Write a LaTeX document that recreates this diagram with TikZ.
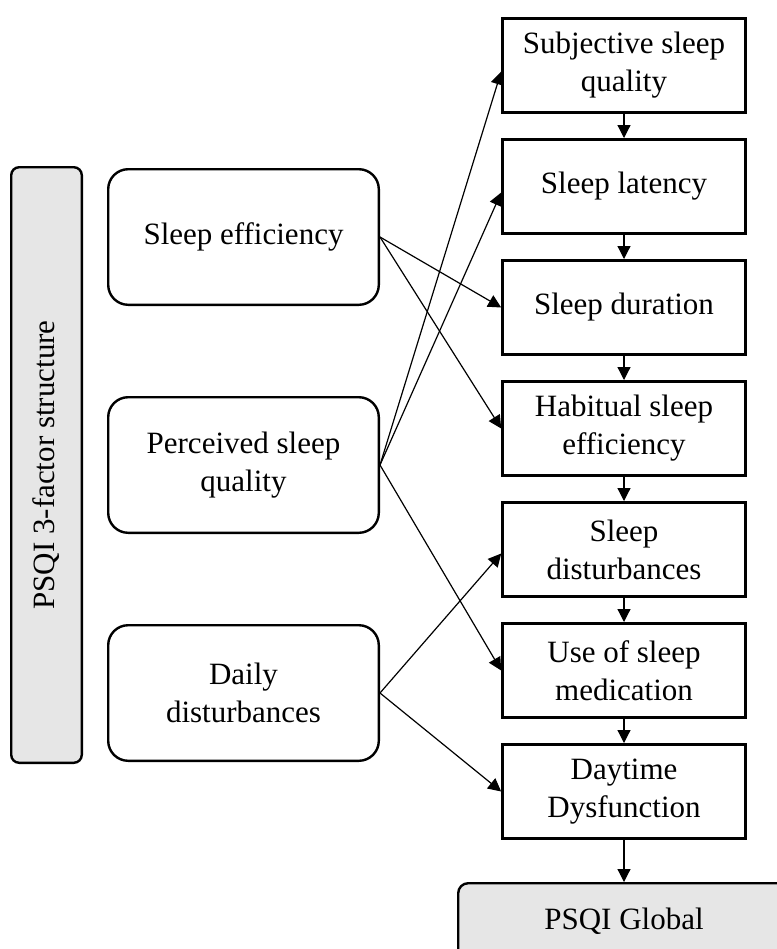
\documentclass[tikz,border=0pt]{standalone}
\usepackage{fontspec}
\setmainfont{Liberation Serif}
\usepackage{xcolor}
\usepackage{tikz}
\usetikzlibrary{arrows.meta, positioning}
\definecolor{boxgray}{RGB}{230,230,230}

\begin{document}
\begin{tikzpicture}[
    font=\fontsize{15.5}{19}\selectfont,
    node distance=12pt,
    itembox/.style={rectangle, draw, line width=1.3pt, align=center, minimum width=121.5pt, minimum height=47.2pt},
    factorbox/.style={rectangle, rounded corners=10pt, draw, line width=1.2pt, align=center, minimum width=135.3pt, minimum height=67.8pt},
    sidebox/.style={rectangle, rounded corners=4pt, draw, line width=1.2pt, fill=boxgray, minimum width=35.3pt, minimum height=297.8pt},
    globalbox/.style={rectangle, rounded corners=5pt, draw, line width=1.2pt, fill=boxgray, minimum width=165.8pt, minimum height=37.8pt},
    arrow/.style={-{Triangle[length=6.5pt, width=6.5pt]}, line width=0.6pt}
]
\useasboundingbox (0,0) rectangle (388.5pt,-474.5pt);
\clip (0,0) rectangle (388.5pt,-474.5pt);

\node[itembox] (subj) at (312pt,-32.75pt) {Subjective sleep\\quality};
\node[itembox, below=of subj] (latency) {Sleep latency};
\node[itembox, below=of latency] (duration) {Sleep duration};
\node[itembox, below=of duration] (habitual) {Habitual sleep\\efficiency};
\node[itembox, below=of habitual] (disturb) {Sleep\\disturbances};
\node[itembox, below=of disturb] (medication) {Use of sleep\\medication};
\node[itembox, below=of medication] (daytime) {Daytime\\Dysfunction};
\node[globalbox, below=21pt of daytime] (global) {PSQI Global};

\node[factorbox] (efficiency) at (121.75pt,-118.5pt) {Sleep efficiency};
\node[factorbox, below=45pt of efficiency] (perceived) {Perceived sleep\\quality};
\node[factorbox, below=45pt of perceived] (daily) {Daily\\disturbances};
\node[sidebox, left=12pt of perceived] (structure) {\rotatebox{90}{PSQI 3-factor structure}};

\draw[arrow] (subj) -- (latency);
\draw[arrow] (latency) -- (duration);
\draw[arrow] (duration) -- (habitual);
\draw[arrow] (habitual) -- (disturb);
\draw[arrow] (disturb) -- (medication);
\draw[arrow] (medication) -- (daytime);
\draw[arrow] (daytime) -- (global);
\draw[arrow] (efficiency.east) -- (duration.west);
\draw[arrow] (efficiency.east) -- (habitual.west);
\draw[arrow] (perceived.east) -- ([yshift=-3pt]subj.west);
\draw[arrow] (perceived.east) -- ([yshift=-3pt]latency.west);
\draw[arrow] (perceived.east) -- (medication.west);
\draw[arrow] (daily.east) -- ([yshift=-2pt]disturb.west);
\draw[arrow] (daily.east) -- (daytime.west);
\end{tikzpicture}
\end{document}
